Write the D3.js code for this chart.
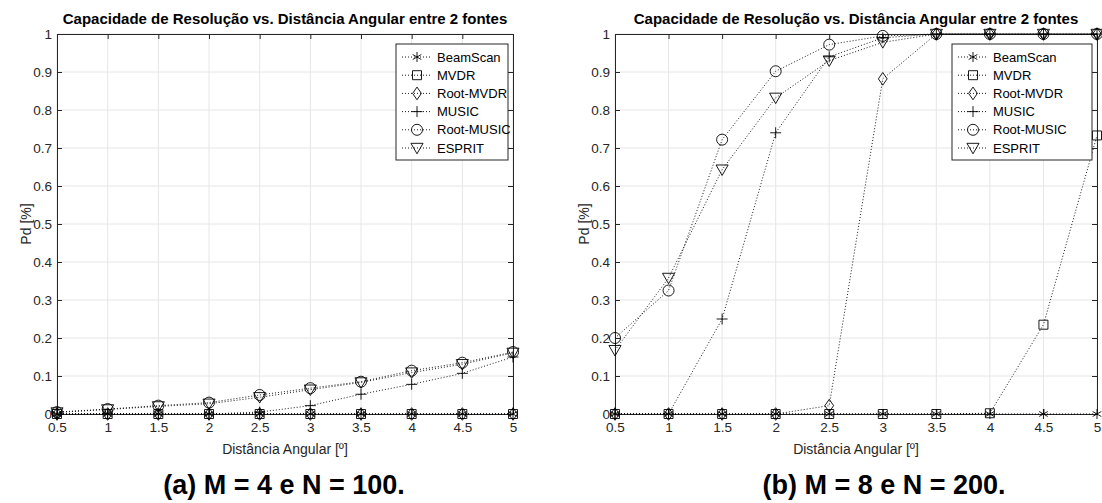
<!DOCTYPE html>
<html><head><meta charset="utf-8">
<script src="https://cdn.jsdelivr.net/npm/d3@7"></script>
<style>
body{margin:0;background:#fff;}
svg{display:block;font-family:"Liberation Sans",Arial,Helvetica,sans-serif;}
</style></head>
<body>
<svg id="c" width="1102" height="503"></svg>
<script>
// ---- DATA ----
const distances = [0.5,1,1.5,2,2.5,3,3.5,4,4.5,5];
const xTicks = [0.5,1,1.5,2,2.5,3,3.5,4,4.5,5];
const yTicks = [0,0.1,0.2,0.3,0.4,0.5,0.6,0.7,0.8,0.9,1];
const methods = ["BeamScan","MVDR","Root-MVDR","MUSIC","Root-MUSIC","ESPRIT"];
const markerTypes = ["asterisk","square","diamond","plus","circle","triangle"];

// (a) M = 4, N = 100
const a_BeamScan  = [0,0,0,0,0,0,0,0,0,0];
const a_MVDR      = [0,0,0,0,0,0,0,0,0,0];
const a_RootMVDR  = [0,0,0,0,0,0,0,0,0,0];
const a_MUSIC     = [0,0,0,0,0.005,0.022,0.052,0.078,0.107,0.15];
const a_RootMUSIC = [0.005,0.013,0.022,0.03,0.05,0.068,0.085,0.114,0.135,0.163];
const a_ESPRIT    = [0.004,0.012,0.02,0.027,0.044,0.064,0.083,0.109,0.131,0.161];

// (b) M = 8, N = 200
const b_BeamScan  = [0,0,0,0,0,0,0,0,0,0];
const b_MVDR      = [0,0,0,0,0,0,0,0.002,0.235,0.733];
const b_RootMVDR  = [0,0,0,0,0.022,0.882,1,1,1,1];
const b_MUSIC     = [0,0,0.25,0.74,0.94,0.99,1,1,1,1];
const b_RootMUSIC = [0.2,0.325,0.722,0.902,0.972,0.995,1,1,1,1];
const b_ESPRIT    = [0.168,0.358,0.643,0.832,0.93,0.978,1,1,1,1];

const titleText = "Capacidade de Resolução vs. Distância Angular entre 2 fontes";
const xLabel = "Distância Angular [º]";
const yLabel = "Pd [%]";
const captions = ["(a) M = 4 e N = 100.","(b) M = 8 e N = 200."];

// ---- DRAW ----
const svg = d3.select("#c");
const panels = [
  {series:[a_BeamScan,a_MVDR,a_RootMVDR,a_MUSIC,a_RootMUSIC,a_ESPRIT], x0:57, x1:513, legX:396, capX:284, caption:captions[0]},
  {series:[b_BeamScan,b_MVDR,b_RootMVDR,b_MUSIC,b_RootMUSIC,b_ESPRIT], x0:615, x1:1097, legX:952, capX:884, caption:captions[1]}
];
const y0 = 34, y1 = 414;

function markerPath(type, s){
  const h = s/2;
  switch(type){
    case "square": return `M${-h},${-h}H${h}V${h}H${-h}Z`;
    case "diamond": { const w=h*0.8, v=h*1.15; return `M0,${-v}L${w},0L0,${v}L${-w},0Z`; }
    case "plus": return `M${-h},0H${h}M0,${-h}V${h}`;
    case "circle": return `M${h},0A${h},${h} 0 1,1 ${-h},0A${h},${h} 0 1,1 ${h},0Z`;
    case "triangle": { const w=h*1.1; return `M${-w},${-h*0.85}H${w}L0,${h*1.05}Z`; }
    case "asterisk": {
      let p = `M0,${-h}V${h}`;
      const a = h*Math.cos(Math.PI/6), b = h*0.5;
      p += `M${-a},${-b}L${a},${b}M${-a},${b}L${a},${-b}`;
      return p;
    }
  }
}
const markerSize = {asterisk:10, square:9, diamond:11, plus:11, circle:11, triangle:11};

panels.forEach(P => {
  const x = d3.scaleLinear().domain([0.5,5]).range([P.x0,P.x1]);
  const y = d3.scaleLinear().domain([0,1]).range([y1,y0]);
  const g = svg.append("g");

  // grid
  g.append("g").selectAll("line").data(xTicks).join("line")
    .attr("x1",d=>x(d)).attr("x2",d=>x(d)).attr("y1",y0).attr("y2",y1)
    .attr("stroke","#e6e6e6").attr("stroke-width",1);
  g.append("g").selectAll("line").data(yTicks).join("line")
    .attr("x1",P.x0).attr("x2",P.x1).attr("y1",d=>y(d)).attr("y2",d=>y(d))
    .attr("stroke","#e6e6e6").attr("stroke-width",1);

  // axes
  const ax = g.append("g").attr("transform",`translate(0,${y1})`)
    .call(d3.axisBottom(x).tickValues(xTicks).tickSize(-5).tickPadding(8).tickFormat(d3.format("~g")));
  const axT = g.append("g").attr("transform",`translate(0,${y0})`)
    .call(d3.axisTop(x).tickValues(xTicks).tickSize(-5).tickFormat(""));
  const ay = g.append("g").attr("transform",`translate(${P.x0},0)`)
    .call(d3.axisLeft(y).tickValues(yTicks).tickSize(-5).tickPadding(5).tickFormat(d3.format("~g")));
  const ayR = g.append("g").attr("transform",`translate(${P.x1},0)`)
    .call(d3.axisRight(y).tickValues(yTicks).tickSize(-5).tickFormat(""));
  [ax,axT,ay,ayR].forEach(a=>{
    a.selectAll(".domain").attr("stroke","#262626").attr("stroke-width",1);
    a.selectAll(".tick line").attr("stroke","#262626");
    a.selectAll("text").attr("fill","#262626").style("font-size","13.5px").style("font-family","Liberation Sans, Arial, sans-serif");
  });

  // lines
  const line = d3.line().x((d,i)=>x(distances[i])).y(d=>y(d));
  P.series.forEach((s,k)=>{
    g.append("path").attr("d",line(s)).attr("fill","none")
      .attr("stroke","#000").attr("stroke-width",0.9).attr("stroke-dasharray","1,2");
  });
  // markers
  P.series.forEach((s,k)=>{
    const t = markerTypes[k];
    g.append("g").selectAll("path").data(s).join("path")
      .attr("transform",(d,i)=>`translate(${x(distances[i])},${y(d)})`)
      .attr("d",markerPath(t,markerSize[t]))
      .attr("fill","none").attr("stroke","#000").attr("stroke-width",0.9);
  });

  // title
  g.append("text").attr("x",(P.x0+P.x1)/2).attr("y",y0-10).attr("text-anchor","middle")
    .style("font-size","15px").style("font-weight","bold").attr("fill","#000").text(titleText);
  // x label
  g.append("text").attr("x",(P.x0+P.x1)/2).attr("y",454).attr("text-anchor","middle")
    .style("font-size","14px").attr("fill","#262626").text(xLabel);
  // y label
  g.append("text").attr("transform",`translate(${P.x0-26},${(y0+y1)/2}) rotate(-90)`).attr("text-anchor","middle")
    .style("font-size","14px").attr("fill","#262626").text(yLabel);
  // caption
  g.append("text").attr("x",P.capX).attr("y",494).attr("text-anchor","middle")
    .style("font-size","27px").style("font-weight","bold").attr("fill","#000").text(P.caption);

  // legend
  const lw = P.x1 - 5 - P.legX, lh = 116, ly = 44;
  const lg = g.append("g").attr("transform",`translate(${P.legX},${ly})`);
  lg.append("rect").attr("width",lw).attr("height",lh).attr("fill","#fff").attr("stroke","#262626").attr("stroke-width",1);
  methods.forEach((m,k)=>{
    const ry = 13 + k*18.2;
    lg.append("line").attr("x1",6).attr("x2",36).attr("y1",ry).attr("y2",ry)
      .attr("stroke","#000").attr("stroke-width",0.9).attr("stroke-dasharray","1,2");
    const t = markerTypes[k];
    lg.append("path").attr("transform",`translate(21,${ry})`).attr("d",markerPath(t,markerSize[t]))
      .attr("fill","none").attr("stroke","#000").attr("stroke-width",0.9);
    lg.append("text").attr("x",41).attr("y",ry).attr("dy","0.35em")
      .style("font-size","13px").attr("fill","#000").text(m);
  });
});
</script>
</body></html>
